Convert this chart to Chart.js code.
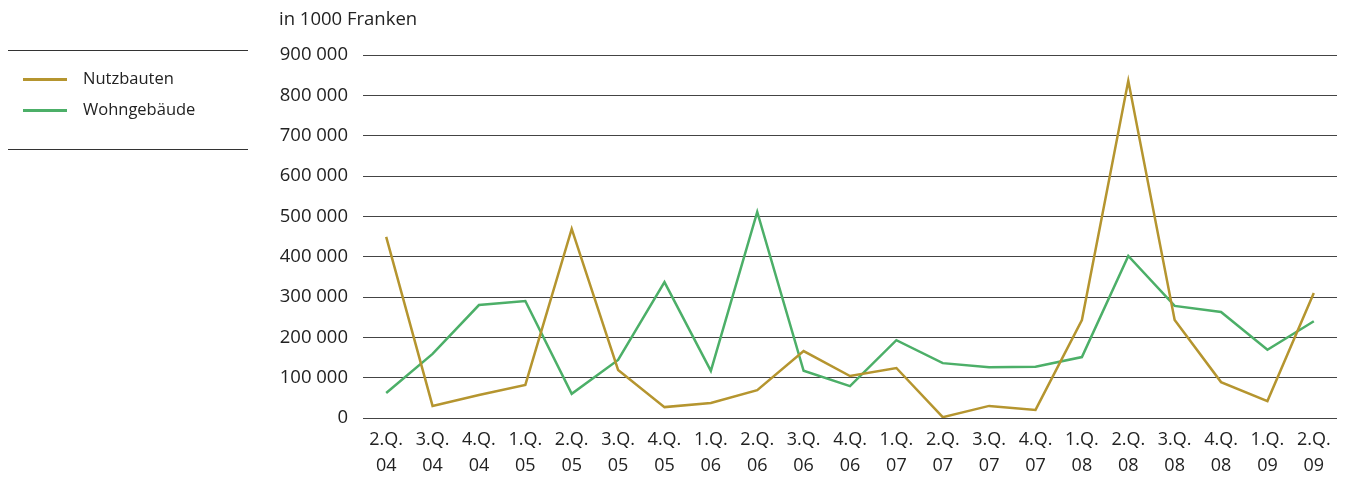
<!DOCTYPE html>
<html>
<head>
<meta charset="utf-8">
<script src="https://cdn.jsdelivr.net/npm/chart.js@4/dist/chart.umd.min.js"></script>
<style>
  body { margin: 0; background: #fff; font-family: "Open Sans", sans-serif; color: #222; }
  #wrap { position: relative; width: 1355px; height: 480px; }
  #chart { position: absolute; left: 0; top: 0; }
  .unit { position: absolute; left: 279px; top: 5px; font-size: 18.5px; }
  .rule { position: absolute; left: 8px; width: 240px; height: 0; border-top: 1px solid #333; }
  .item { position: absolute; left: 23px; font-size: 16.5px; }
  .item span.sw { display: inline-block; width: 44px; height: 0; border-top: 3px solid; vertical-align: middle; margin-right: 16px; }
</style>
</head>
<body>
<div id="wrap">
  <canvas id="chart" width="1355" height="480"></canvas>
  <div class="unit">in 1000 Franken</div>
  <div class="rule" style="top:50px"></div>
  <div class="item" style="top:66px"><span class="sw" style="border-color:#b5952f"></span>Nutzbauten</div>
  <div class="item" style="top:97px"><span class="sw" style="border-color:#4caf68"></span>Wohngebäude</div>
  <div class="rule" style="top:149px"></div>
</div>
<script>
const quarters = ['2.Q.','3.Q.','4.Q.','1.Q.','2.Q.','3.Q.','4.Q.','1.Q.','2.Q.','3.Q.','4.Q.','1.Q.','2.Q.','3.Q.','4.Q.','1.Q.','2.Q.','3.Q.','4.Q.','1.Q.','2.Q.'];
const years = ['04','04','04','05','05','05','05','06','06','06','06','07','07','07','07','08','08','08','08','09','09'];

const nutzbauten = [449000, 30000, 57000, 82000, 469000, 119000, 27000, 37000, 69000, 166000, 104000, 124000, 2000, 30000, 20000, 243000, 836000, 243000, 89000, 42000, 310000];
const wohngebaeude = [62000, 159000, 280000, 290000, 60000, 144000, 337000, 117000, 511000, 117000, 79000, 193000, 136000, 126000, 127000, 151000, 402000, 278000, 263000, 169000, 240000];

const gold = '#b5952f';
const green = '#4caf68';

const labels = quarters.map((q, i) => [q, years[i]]);

const ctx = document.getElementById('chart');

const config = {
  type: 'line',
  data: {
    labels: labels,
    datasets: [
      { label: 'Nutzbauten', data: nutzbauten, borderColor: gold, borderWidth: 2.5, pointRadius: 0, tension: 0 },
      { label: 'Wohngebäude', data: wohngebaeude, borderColor: green, borderWidth: 2.5, pointRadius: 0, tension: 0 }
    ]
  },
  options: {
    responsive: false,
    animation: false,
    layout: { padding: { left: 270, right: 18, top: 55, bottom: 0 } },
    plugins: { legend: { display: false }, tooltip: { enabled: false } },
    scales: {
      x: {
        offset: true,
        grid: { display: false, drawTicks: false },
        border: { display: false },
        ticks: { color: '#222', font: { family: 'Open Sans', size: 18, lineHeight: 1.45 }, padding: 9, maxRotation: 0, autoSkip: false },
        afterFit: (axis) => { axis.height = 62; }
      },
      y: {
        min: 0,
        max: 900000,
        grid: { color: '#444', lineWidth: 1, drawTicks: false },
        border: { display: false },
        ticks: {
          stepSize: 100000,
          color: '#222',
          font: { family: 'Open Sans', size: 18.5 },
          padding: 15,
          callback: (v) => String(v).replace(/\B(?=(\d{3})+(?!\d))/g, ' ')
        },
        afterFit: (axis) => { axis.width = 93; }
      }
    }
  }
};

new Chart(ctx, config);
</script>
</body>
</html>
